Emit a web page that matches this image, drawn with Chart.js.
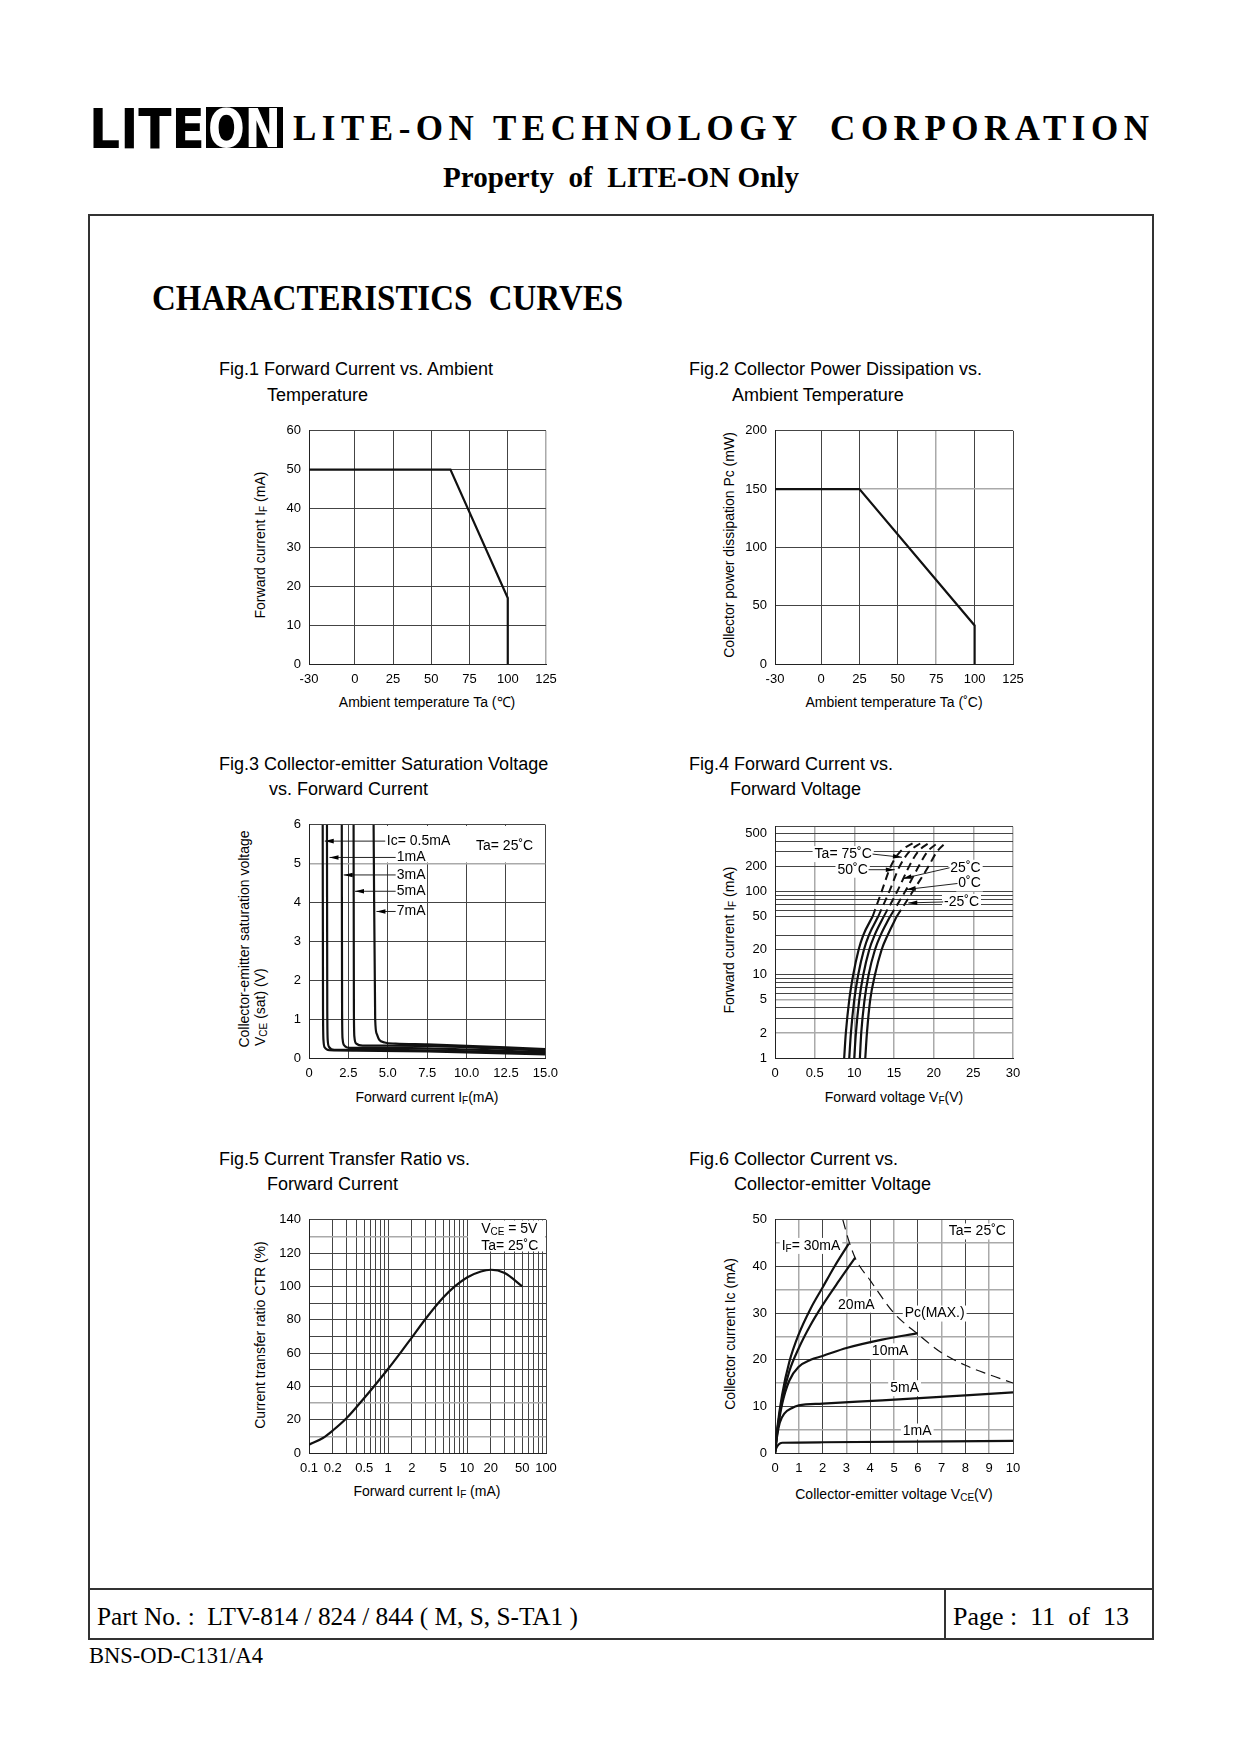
<!DOCTYPE html>
<html>
<head>
<meta charset="utf-8">
<title>LTV-814 Characteristics Curves</title>
<script src="https://cdn.jsdelivr.net/npm/chart.js@4.4.1/dist/chart.umd.min.js"></script>
<style>
  html, body { margin: 0; padding: 0; background: #fff; }
  body { position: relative; width: 1240px; height: 1754px; overflow: hidden;
         font-family: "Liberation Sans", Arial, sans-serif; color: #000; }
  .t { position: absolute; white-space: pre; line-height: 1; transform-origin: 0 0; }
  .serif { font-family: "Liberation Serif", "Times New Roman", serif; }
  .figtitle { position: absolute; font-size: 18px; line-height: 22px; white-space: pre; }
  .xt, .yt { position: absolute; width: 300px; height: 16px; line-height: 16px; font-size: 14px;
             text-align: center; white-space: pre; }
  .yt { transform: rotate(-90deg); }
  .yt.start { text-align: left; }
  sub { font-size: 10px; vertical-align: -2px; line-height: 0; }
  canvas { position: absolute; }
  .line { position: absolute; background: #333; }
</style>
</head>
<body>

<!-- header -->
<div class="t" id="logoLite" style="left:89px; top:101px; font-family:'DejaVu Sans'; font-weight:bold; font-size:56px;">LITE</div>
<div style="position:absolute; left:206px; top:107px; width:77px; height:41px; background:#000;"></div>
<div class="t" id="logoOn" style="left:208px; top:102px; font-family:'DejaVu Sans'; font-weight:bold; font-size:54px; color:#fff;">ON</div>
<div class="t serif" id="corpTitle" style="left:293px; top:111px; font-size:35px; font-weight:bold;">LITE-ON TECHNOLOGY  CORPORATION</div>
<div class="t serif" id="property" style="left:443px; top:162px; font-size:30px; font-weight:bold;">Property  of  LITE-ON Only</div>

<!-- page frame -->
<div style="position:absolute; left:88px; top:214px; width:1066px; height:1426px; box-sizing:border-box; border:2px solid #333;"></div>
<div class="line" style="left:88px; top:1588px; width:1066px; height:2px;"></div>
<div class="line" style="left:944px; top:1588px; width:2px; height:51px;"></div>

<div class="t serif" id="charTitle" style="left:152px; top:281px; font-size:35px; font-weight:bold;">CHARACTERISTICS  CURVES</div>

<div class="t serif" id="partNo" style="left:97px; top:1604px; font-size:25px;">Part No. :  LTV-814 / 824 / 844 ( M, S, S-TA1 )</div>
<div class="t serif" id="pageNo" style="left:953px; top:1604px; font-size:25px;">Page :  11  of  13</div>
<div class="t serif" id="docNo" style="left:89px; top:1643px; font-size:24px;">BNS-OD-C131/A4</div>

<!-- figure titles -->
<div class="figtitle" style="left:219px; top:358px;">Fig.1 Forward Current vs. Ambient</div>
<div class="figtitle" style="left:267px; top:384px;">Temperature</div>
<div class="figtitle" style="left:689px; top:358px;">Fig.2 Collector Power Dissipation vs.</div>
<div class="figtitle" style="left:732px; top:384px;">Ambient Temperature</div>
<div class="figtitle" style="left:219px; top:753px;">Fig.3 Collector-emitter Saturation Voltage</div>
<div class="figtitle" style="left:269px; top:778px;">vs. Forward Current</div>
<div class="figtitle" style="left:689px; top:753px;">Fig.4 Forward Current vs.</div>
<div class="figtitle" style="left:730px; top:778px;">Forward Voltage</div>
<div class="figtitle" style="left:219px; top:1148px;">Fig.5 Current Transfer Ratio vs.</div>
<div class="figtitle" style="left:267px; top:1173px;">Forward Current</div>
<div class="figtitle" style="left:689px; top:1148px;">Fig.6 Collector Current vs.</div>
<div class="figtitle" style="left:734px; top:1173px;">Collector-emitter Voltage</div>

<!-- axis titles -->
<div class="yt" style="left:110px; top:537px;">Forward current I<sub>F</sub> (mA)</div>
<div class="xt" style="left:277px; top:694px;">Ambient temperature Ta (℃)</div>
<div class="yt" style="left:579px; top:537px;">Collector power dissipation Pc (mW)</div>
<div class="xt" style="left:744px; top:694px;">Ambient temperature Ta (˚C)</div>
<div class="yt" style="left:94px; top:931px;">Collector-emitter saturation voltage</div>
<div class="yt start" style="transform-origin:0 50%; width:300px; left:260px; top:1038px;">V<sub>CE</sub> (sat) (V)</div>
<div class="xt" style="left:277px; top:1089px;">Forward current I<sub>F</sub>(mA)</div>
<div class="yt" style="left:579px; top:932px;">Forward current I<sub>F</sub> (mA)</div>
<div class="xt" style="left:744px; top:1089px;">Forward voltage V<sub>F</sub>(V)</div>
<div class="yt" style="left:110px; top:1327px;">Current transfer ratio CTR (%)</div>
<div class="xt" style="left:277px; top:1483px;">Forward current I<sub>F</sub> (mA)</div>
<div class="yt" style="left:580px; top:1326px;">Collector current Ic (mA)</div>
<div class="xt" style="left:744px; top:1486px;">Collector-emitter voltage V<sub>CE</sub>(V)</div>

<canvas id="fig1"></canvas>
<canvas id="fig2"></canvas>
<canvas id="fig3"></canvas>
<canvas id="fig4"></canvas>
<canvas id="fig5"></canvas>
<canvas id="fig6"></canvas>

<script>
// ============================================
// DATA
// ============================================

// Fig.1 forward current vs. ambient temperature
const fig1Temp = [-30, 62.5, 100, 100];
const fig1Current = [50, 50, 17, 0];

// Fig.2 collector power dissipation vs. ambient temperature
const fig2Temp = [-30, 25, 100, 100];
const fig2Power = [150, 150, 33, 0];

const tempTicks = [-30, 0, 25, 50, 75, 100, 125];

// Fig.3 VCE(sat) vs. IF, one curve per collector current
const fig3Labels = ['Ic= 0.5mA', '1mA', '3mA', '5mA', '7mA'];
const fig3If05 = [0.87, 0.89, 0.92, 1.0, 1.3, 3, 7.5, 15];
const fig3Vce05 = [6, 1.2, 0.45, 0.27, 0.2, 0.19, 0.17, 0.09];
const fig3If1 = [1.14, 1.16, 1.19, 1.28, 1.6, 3, 7.5, 15];
const fig3Vce1 = [6, 1.2, 0.45, 0.28, 0.21, 0.21, 0.2, 0.12];
const fig3If3 = [2.08, 2.1, 2.13, 2.25, 2.6, 4, 7.5, 15];
const fig3Vce3 = [6, 1.2, 0.5, 0.32, 0.26, 0.26, 0.25, 0.15];
const fig3If5 = [2.83, 2.85, 2.88, 3.0, 3.4, 5, 7.5, 15];
const fig3Vce5 = [6, 1.2, 0.55, 0.37, 0.32, 0.32, 0.31, 0.19];
const fig3If7 = [4.1, 4.2, 4.3, 4.45, 4.8, 5.5, 7.5, 15];
const fig3Vce7 = [6, 1.0, 0.62, 0.47, 0.4, 0.37, 0.35, 0.23];
const fig3IfTicks = [0, 2.5, 5, 7.5, 10, 12.5, 15];
const fig3VceTicks = [0, 1, 2, 3, 4, 5, 6];

// Fig.4 IF vs. VF, solid part and dashed extension per temperature
const fig4TempLabels = ['Ta= 75˚C', '50˚C', '25˚C', '0˚C', '-25˚C'];
const fig4IfSolid = [1, 2, 5, 10, 20, 30, 50];
const fig4Vf75 = [8.72, 8.93, 9.36, 9.86, 10.54, 11.13, 12.3];
const fig4Vf50 = [9.36, 9.57, 9.99, 10.49, 11.21, 11.84, 13.0];
const fig4Vf25 = [9.99, 10.2, 10.62, 11.13, 11.88, 12.56, 13.7];
const fig4Vf0 = [10.7, 10.87, 11.29, 11.8, 12.6, 13.32, 14.5];
const fig4VfM25 = [11.38, 11.59, 12.0, 12.6, 13.44, 14.2, 15.33];
const fig4IfDash = [50, 100, 200, 300, 390];
const fig4Vf75Dash = [12.3, 13.44, 14.58, 15.76, 17.53];
const fig4Vf50Dash = [13.0, 14.4, 15.7, 16.9, 18.5];
const fig4Vf25Dash = [13.7, 15.4, 16.9, 18.0, 19.5];
const fig4Vf0Dash = [14.5, 16.4, 18.1, 19.2, 20.6];
const fig4VfM25Dash = [15.33, 17.36, 19.34, 20.4, 21.57];
const fig4VfTicks = [0, 5, 10, 15, 20, 25, 30];
const fig4VfTickLabels = ['0', '0.5', '10', '15', '20', '25', '30'];
const fig4IfGrid = [1, 2, 3, 4, 5, 6, 7, 8, 9, 10, 20, 30, 50, 60, 70, 80, 90, 100, 200, 300, 400, 500, 600];
const fig4IfTickLabels = [1, 2, 5, 10, 20, 50, 100, 200, 500];

// Fig.5 CTR vs. IF
const fig5If = [0.1, 0.15, 0.2, 0.3, 0.5, 0.7, 1, 1.5, 2, 3, 5, 7, 10, 15, 20, 30, 50];
const fig5Ctr = [5, 9, 13.5, 21, 33, 41.3, 50.4, 61.3, 69.3, 80.6, 93.3, 100, 105.4, 109, 110, 108, 100];
const fig5IfGrid = [0.1, 0.2, 0.3, 0.4, 0.5, 0.6, 0.7, 0.8, 0.9, 1, 2, 3, 4, 5, 6, 7, 8, 9, 10,
                    20, 30, 40, 50, 60, 70, 80, 90, 100];
const fig5IfTickLabels = [0.1, 0.2, 0.5, 1, 2, 5, 10, 20, 50, 100];
const fig5CtrGrid = [0, 10, 20, 30, 40, 50, 60, 70, 80, 90, 100, 110, 120, 130, 140];

// Fig.6 IC vs. VCE, one curve per forward current
const fig6IfLabels = ['30mA', '20mA', '10mA', '5mA', '1mA'];
const fig6Vce30 = [0, 0.1, 0.3, 0.6, 1, 1.5, 2, 2.5, 3.1];
const fig6Ic30 = [0, 5.5, 12.5, 19.5, 25.5, 31, 35.5, 40, 44.9];
const fig6Vce20 = [0, 0.1, 0.3, 0.6, 1, 1.5, 2, 2.7, 3.37];
const fig6Ic20 = [0, 5, 11.5, 17.5, 22.5, 27.5, 31.7, 37, 41.9];
const fig6Vce10 = [0, 0.1, 0.3, 0.6, 1, 1.5, 2, 3, 4.5, 6];
const fig6Ic10 = [0, 4.5, 10.5, 15.5, 18.5, 20, 20.8, 22.5, 24.3, 25.7];
const fig6Vce5 = [0, 0.1, 0.2, 0.4, 0.7, 1, 2, 4.5, 10];
const fig6Ic5 = [0, 4, 6.5, 8.5, 9.6, 10.2, 10.6, 11.3, 13];
const fig6Vce1 = [0, 0.05, 0.15, 0.3, 2, 10];
const fig6Ic1 = [0, 1, 1.8, 2.2, 2.3, 2.6];
const fig6VcePc = [2.85, 3.1, 3.4, 4, 5, 6, 7, 8, 9, 10];
const fig6IcPc = [50, 45.5, 41.5, 37, 30, 25.5, 21.5, 18.8, 16.8, 15];
const fig6VceTicks = [0, 1, 2, 3, 4, 5, 6, 7, 8, 9, 10];
const fig6IcGrid = [0, 5, 10, 15, 20, 25, 30, 35, 40, 45, 50];

// ============================================
// HELPERS
// ============================================
const PAD_L = 60, PAD_T = 12, PAD_R = 20, PAD_B = 30;
const tickFont = { family: 'Liberation Sans, Arial, sans-serif', size: 13 };
const LABEL_FONT = '14px "Liberation Sans", Arial, sans-serif';
const SUB_FONT = '10px "Liberation Sans", Arial, sans-serif';
const DARK = '#444', LIGHT = '#aaa';

function xy(xs, ys) {
    return xs.map((x, i) => ({ x: x, y: ys[i] }));
}

function curve(xs, ys, extra) {
    return Object.assign({
        data: xy(xs, ys),
        borderColor: '#111',
        borderWidth: 2.2,
        pointRadius: 0,
        fill: false,
        cubicInterpolationMode: 'monotone'
    }, extra || {});
}

function scale(type, min, max, tickValues, labelFn, grayValues, isX) {
    const gray = grayValues || [];
    return {
        type: type,
        min: min,
        max: max,
        afterBuildTicks: s => { s.ticks = tickValues.map(v => ({ value: v })); },
        afterFit: s => { if (isX) s.height = PAD_B; else s.width = PAD_L; },
        ticks: {
            autoSkip: false, maxRotation: 0, minRotation: 0,
            padding: 8, color: '#000', font: tickFont,
            callback: (v, i) => labelFn(v, i)
        },
        grid: {
            drawTicks: false,
            color: c => (c.tick && gray.indexOf(c.tick.value) >= 0) ? LIGHT : DARK,
            lineWidth: c => (c.tick && gray.indexOf(c.tick.value) >= 0) ? 1.5 : 1
        },
        border: { color: '#222', width: 1 }
    };
}

function richParts(s) {
    return s.split(/_\{([^}]*)\}/).map((t, i) => ({ t: t, sub: i % 2 === 1 })).filter(p => p.t);
}

function richWidth(c, parts) {
    let w = 0;
    parts.forEach(p => { c.font = p.sub ? SUB_FONT : LABEL_FONT; w += c.measureText(p.t).width; });
    return w;
}

// text labels, leader arrows and blanked grid areas, drawn in data units
const marksPlugin = {
    id: 'marks',
    beforeDatasetsDraw(chart, args, opts) {
        const c = chart.ctx, sx = chart.scales.x, sy = chart.scales.y;
        const px = v => sx.getPixelForValue(v), py = v => sy.getPixelForValue(v);
        c.save();
        c.fillStyle = '#fff';
        (opts.blanks || []).forEach(b => {
            c.fillRect(px(b[0]), py(b[3]), px(b[2]) - px(b[0]), py(b[1]) - py(b[3]));
        });
        const labels = (opts.labels || []).map(l => {
            const parts = richParts(l.text);
            const w = richWidth(c, parts);
            const x = px(l.x), y = py(l.y);
            return { parts: parts, w: w, x0: l.align === 'right' ? x - w : x, y: y, bg: l.bg };
        });
        labels.forEach(l => {
            if (l.bg) { c.fillStyle = '#fff'; c.fillRect(l.x0 - 2, l.y - 8, l.w + 4, 16); }
        });
        (opts.leaders || []).forEach(l => {
            const x1 = px(l[0]), y1 = py(l[1]), x2 = px(l[2]), y2 = py(l[3]);
            c.strokeStyle = '#222';
            c.lineWidth = 1;
            c.beginPath(); c.moveTo(x1, y1); c.lineTo(x2, y2); c.stroke();
            const a = Math.atan2(y2 - y1, x2 - x1), len = 9, half = 2.3;
            c.fillStyle = '#000';
            c.beginPath();
            c.moveTo(x2, y2);
            c.lineTo(x2 - len * Math.cos(a) + half * Math.sin(a), y2 - len * Math.sin(a) - half * Math.cos(a));
            c.lineTo(x2 - len * Math.cos(a) - half * Math.sin(a), y2 - len * Math.sin(a) + half * Math.cos(a));
            c.closePath();
            c.fill();
        });
        c.fillStyle = '#000';
        c.textBaseline = 'middle';
        c.textAlign = 'left';
        labels.forEach(l => {
            let x = l.x0;
            l.parts.forEach(p => {
                c.font = p.sub ? SUB_FONT : LABEL_FONT;
                c.fillText(p.t, x, p.sub ? l.y + 3 : l.y);
                x += c.measureText(p.t).width;
            });
        });
        c.restore();
    }
};

function makeChart(id, box, datasets, scales, marks) {
    const canvas = document.getElementById(id);
    canvas.width = box.w + PAD_L + PAD_R;
    canvas.height = box.h + PAD_T + PAD_B;
    canvas.style.left = (box.x - PAD_L) + 'px';
    canvas.style.top = (box.y - PAD_T) + 'px';
    return new Chart(canvas, {
        type: 'line',
        data: { datasets: datasets },
        options: {
            responsive: false,
            animation: false,
            devicePixelRatio: 1,
            events: [],
            layout: { padding: { left: 0, top: PAD_T, right: PAD_R, bottom: 0 } },
            plugins: { legend: { display: false }, tooltip: { enabled: false }, marks: marks || {} },
            scales: scales
        },
        plugins: [marksPlugin]
    });
}

const plain = v => String(v);

// ============================================
// FIG.1 FORWARD CURRENT VS. AMBIENT TEMPERATURE
// ============================================
makeChart('fig1', { x: 309, y: 427, w: 237, h: 237 },
    [curve(fig1Temp, fig1Current, { cubicInterpolationMode: 'default', tension: 0 })],
    {
        x: scale('linear', -30, 125, tempTicks, plain, [125], true),
        y: scale('linear', 0, 60, [0, 10, 20, 30, 40, 50, 60], plain, [], false)
    });

// ============================================
// FIG.2 COLLECTOR POWER DISSIPATION
// ============================================
makeChart('fig2', { x: 775, y: 427, w: 238, h: 237 },
    [curve(fig2Temp, fig2Power, { cubicInterpolationMode: 'default', tension: 0 })],
    {
        x: scale('linear', -30, 125, tempTicks, plain, [75], true),
        y: scale('linear', 0, 200, [0, 50, 100, 150, 200], plain, [150], false)
    });

// ============================================
// FIG.3 COLLECTOR-EMITTER SATURATION VOLTAGE
// ============================================
makeChart('fig3', { x: 309, y: 821, w: 237, h: 237 },
    [
        curve(fig3If05, fig3Vce05, { label: fig3Labels[0] }),
        curve(fig3If1, fig3Vce1, { label: fig3Labels[1] }),
        curve(fig3If3, fig3Vce3, { label: fig3Labels[2] }),
        curve(fig3If5, fig3Vce5, { label: fig3Labels[3] }),
        curve(fig3If7, fig3Vce7, { label: fig3Labels[4] })
    ],
    {
        x: scale('linear', 0, 15, fig3IfTicks, v => v === 0 ? '0' : v.toFixed(1), [], true),
        y: scale('linear', 0, 6, fig3VceTicks, plain, [5], false)
    },
    {
        blanks: [[4.55, 5.03, 14.93, 5.97]],
        leaders: [
            [4.84, 5.58, 1.0, 5.58],
            [5.5, 5.16, 1.3, 5.16],
            [5.5, 4.71, 2.2, 4.71],
            [5.5, 4.29, 2.92, 4.29],
            [5.5, 3.77, 4.28, 3.77]
        ],
        labels: [
            { text: fig3Labels[0], x: 4.94, y: 5.58 },
            { text: fig3Labels[1], x: 5.57, y: 5.16 },
            { text: fig3Labels[2], x: 5.57, y: 4.71 },
            { text: fig3Labels[3], x: 5.57, y: 4.29 },
            { text: fig3Labels[4], x: 5.57, y: 3.77 },
            { text: 'Ta= 25˚C', x: 10.6, y: 5.45 }
        ]
    });

// ============================================
// FIG.4 FORWARD CURRENT VS. FORWARD VOLTAGE
// ============================================
const dash = { borderDash: [8, 5], borderWidth: 2 };
makeChart('fig4', { x: 775, y: 823, w: 238, h: 235 },
    [
        curve(fig4Vf75, fig4IfSolid), curve(fig4Vf50, fig4IfSolid), curve(fig4Vf25, fig4IfSolid),
        curve(fig4Vf0, fig4IfSolid), curve(fig4VfM25, fig4IfSolid),
        curve(fig4Vf75Dash, fig4IfDash, dash), curve(fig4Vf50Dash, fig4IfDash, dash),
        curve(fig4Vf25Dash, fig4IfDash, dash), curve(fig4Vf0Dash, fig4IfDash, dash),
        curve(fig4VfM25Dash, fig4IfDash, dash)
    ],
    {
        x: scale('linear', 0, 30, fig4VfTicks, (v, i) => fig4VfTickLabels[i], [5, 10, 15, 20, 25, 30], true),
        y: scale('logarithmic', 1, 600, fig4IfGrid,
            v => fig4IfTickLabels.indexOf(v) >= 0 ? String(v) : '', [2, 5], false)
    },
    {
        leaders: [
            [12.3, 282, 16.0, 258],
            [11.8, 183, 15.1, 183],
            [22.0, 193, 16.1, 143],
            [23.0, 125, 16.6, 106],
            [21.2, 75, 16.8, 73]
        ],
        labels: [
            { text: fig4TempLabels[0], x: 12.2, y: 282, align: 'right', bg: true },
            { text: fig4TempLabels[1], x: 11.7, y: 183, align: 'right', bg: true },
            { text: fig4TempLabels[2], x: 22.1, y: 193, bg: true },
            { text: fig4TempLabels[3], x: 23.1, y: 125, bg: true },
            { text: fig4TempLabels[4], x: 21.3, y: 75, bg: true }
        ]
    });

// ============================================
// FIG.5 CURRENT TRANSFER RATIO VS. FORWARD CURRENT
// ============================================
makeChart('fig5', { x: 309, y: 1216, w: 237, h: 237 },
    [curve(fig5If, fig5Ctr)],
    {
        x: scale('logarithmic', 0.1, 100, fig5IfGrid,
            v => fig5IfTickLabels.indexOf(v) >= 0 ? String(v) : '', [], true),
        y: scale('linear', 0, 140, fig5CtrGrid, v => v % 20 === 0 ? String(v) : '', [10, 30, 130], false)
    },
    {
        blanks: [[10.3, 121, 97, 139.6]],
        labels: [
            { text: 'V_{CE} = 5V', x: 15.1, y: 134.1 },
            { text: 'Ta= 25˚C', x: 15.1, y: 124.3 }
        ]
    });

// ============================================
// FIG.6 COLLECTOR CURRENT VS. COLLECTOR-EMITTER VOLTAGE
// ============================================
makeChart('fig6', { x: 775, y: 1216, w: 238, h: 237 },
    [
        curve(fig6Vce30, fig6Ic30), curve(fig6Vce20, fig6Ic20), curve(fig6Vce10, fig6Ic10),
        curve(fig6Vce5, fig6Ic5), curve(fig6Vce1, fig6Ic1),
        curve(fig6VcePc, fig6IcPc, { borderDash: [10, 6], borderWidth: 1.2 })
    ],
    {
        x: scale('linear', 0, 10, fig6VceTicks, plain, [1, 3, 5, 7, 9], true),
        y: scale('linear', 0, 50, fig6IcGrid, v => v % 10 === 0 ? String(v) : '', [5, 15, 25, 35, 45], false)
    },
    {
        labels: [
            { text: 'I_{F}= ' + fig6IfLabels[0], x: 0.28, y: 44.4, bg: true },
            { text: fig6IfLabels[1], x: 2.65, y: 31.8, bg: true },
            { text: 'Pc(MAX.)', x: 5.45, y: 29.9, bg: true },
            { text: fig6IfLabels[2], x: 4.07, y: 21.8, bg: true },
            { text: fig6IfLabels[3], x: 4.84, y: 13.9, bg: true },
            { text: fig6IfLabels[4], x: 5.37, y: 4.6, bg: true },
            { text: 'Ta= 25˚C', x: 7.3, y: 47.5, bg: true }
        ]
    });

// ============================================
// HEADER / FOOTER TEXT WIDTHS
// ============================================
function squeeze(id, target) {
    const el = document.getElementById(id);
    const w = el.getBoundingClientRect().width;
    el.style.transform = 'scaleX(' + (target / w) + ')';
}
function spread(id, target) {
    const el = document.getElementById(id);
    const w = el.getBoundingClientRect().width;
    el.style.letterSpacing = ((target - w) / (el.textContent.length - 1)) + 'px';
}
squeeze('logoLite', 116);
squeeze('logoOn', 73);
spread('corpTitle', 856);
squeeze('property', 356);
squeeze('charTitle', 471);
squeeze('partNo', 481);
squeeze('pageNo', 176);
squeeze('docNo', 174);
</script>
</body>
</html>
